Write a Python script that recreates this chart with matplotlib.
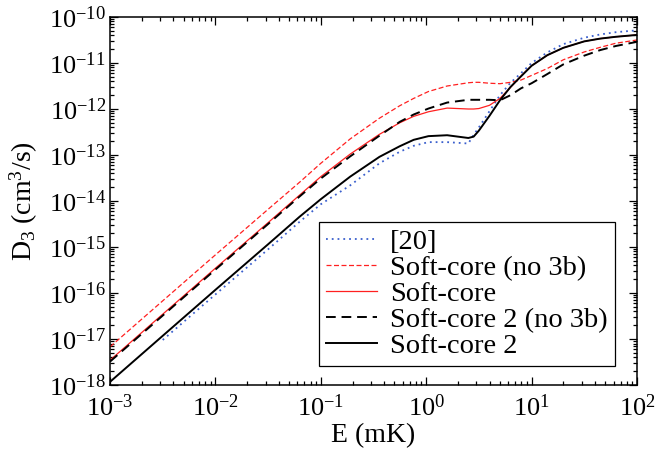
import numpy as np
import matplotlib
matplotlib.use("Agg")
import matplotlib.pyplot as plt

# energy grid (mK) and log10 of D3 (cm^3/s)
E = [0.001, 0.00316, 0.01, 0.0316, 0.063, 0.1, 0.19, 0.36, 0.56, 0.76, 1.05,
     1.58, 2.51, 2.82, 3.16, 3.98, 5.01, 6.31, 7.94, 10.0, 14.1, 20.0, 31.6,
     44.7, 63.1, 100.0]

# [20], starts at E = 3e-3
E_ref = E[1:]
logD_ref = [-17.02, -16.03, -15.05, -14.45, -14.07, -13.66, -13.18, -12.93,
            -12.80, -12.72, -12.72, -12.75, -12.56, -12.40, -12.05, -11.70,
            -11.43, -11.22, -11.00, -10.77, -10.59, -10.45, -10.38, -10.33,
            -10.29]

logD_sc_no3b = [-17.17, -16.17, -15.17, -14.18, -13.59, -13.18, -12.65, -12.20,
                -11.93, -11.77, -11.62, -11.50, -11.43, -11.42, -11.42, -11.44,
                -11.45, -11.42, -11.37, -11.27, -11.12, -10.93, -10.76, -10.66,
                -10.57, -10.50]

logD_sc = [-17.46, -16.46, -15.46, -14.47, -13.87, -13.47, -12.98, -12.55,
           -12.30, -12.16, -12.06, -11.98, -12.00, -12.00, -11.99, -11.92,
           -11.77, -11.53, -11.28, -11.06, -10.83, -10.67, -10.53, -10.47,
           -10.43, -10.39]

logD_sc2_no3b = [-17.49, -16.49, -15.49, -14.50, -13.90, -13.51, -13.03, -12.58,
                 -12.28, -12.12, -11.99, -11.86, -11.80, -11.80, -11.80, -11.80,
                 -11.81, -11.70, -11.55, -11.44, -11.24, -11.03, -10.84, -10.72,
                 -10.63, -10.54]

logD_sc2 = [-17.93, -16.93, -15.93, -14.94, -14.34, -13.96, -13.47, -13.04,
            -12.81, -12.67, -12.59, -12.57, -12.63, -12.60, -12.47, -12.15,
            -11.81, -11.52, -11.29, -11.06, -10.83, -10.67, -10.53, -10.47,
            -10.43, -10.39]

plt.rcParams['font.family'] = ['Liberation Serif', 'DejaVu Serif']
plt.rcParams['mathtext.fontset'] = 'custom'
plt.rcParams['mathtext.rm'] = 'Liberation Serif'
plt.rcParams['mathtext.it'] = 'Liberation Serif:italic'
plt.rcParams['axes.unicode_minus'] = False

fig = plt.figure(figsize=(6.55, 4.53), dpi=100)
ax = fig.add_axes([0.168, 0.150, 0.8045, 0.8125])

ax.plot(E_ref, 10 ** np.array(logD_ref), color='#3a5fcd', lw=1.3,
        linestyle=(0, (1, 2.2)), label='[20]')
ax.plot(E, 10 ** np.array(logD_sc_no3b), color='#ff2020', lw=0.9,
        linestyle=(0, (4, 2)), label='Soft-core (no 3b)')
ax.plot(E, 10 ** np.array(logD_sc), color='#ff2020', lw=0.9,
        label='Soft-core')
ax.plot(E, 10 ** np.array(logD_sc2_no3b), color='black', lw=1.4,
        linestyle=(0, (5, 3)), label='Soft-core 2 (no 3b)')
ax.plot(E, 10 ** np.array(logD_sc2), color='black', lw=1.4,
        label='Soft-core 2')

ax.set_xscale('log')
ax.set_yscale('log')
ax.set_xlim(1e-3, 1e2)
ax.set_ylim(1e-18, 1e-10)
ax.set_yticks([10.0 ** k for k in range(-18, -9)])
ax.set_xlabel('E (mK)', fontsize=20, labelpad=1)
ax.set_ylabel(r'D$_3$ (cm$^3$/s)', fontsize=20, labelpad=6)

for s in ax.spines.values():
    s.set_linewidth(1.1)
ax.tick_params(which='both', direction='in', top=True, right=True, width=0.9)
ax.tick_params(which='major', length=6, labelsize=19)
ax.tick_params(axis='x', which='major', pad=7)
ax.tick_params(axis='y', which='major', pad=3)
ax.tick_params(which='minor', length=3)
ax.yaxis.set_minor_locator(matplotlib.ticker.LogLocator(base=10, subs=np.arange(2, 10), numticks=20))
ax.yaxis.set_minor_formatter(matplotlib.ticker.NullFormatter())

leg = ax.legend(loc='lower right', bbox_to_anchor=(0.958, 0.0516), fontsize=20.5,
                frameon=True, fancybox=False, edgecolor='black', framealpha=1,
                handlelength=1.8, handletextpad=0.45, labelspacing=0.0,
                borderpad=0.25, borderaxespad=0)
leg.get_frame().set_linewidth(0.9)

fig.savefig('out.png', dpi=100)
